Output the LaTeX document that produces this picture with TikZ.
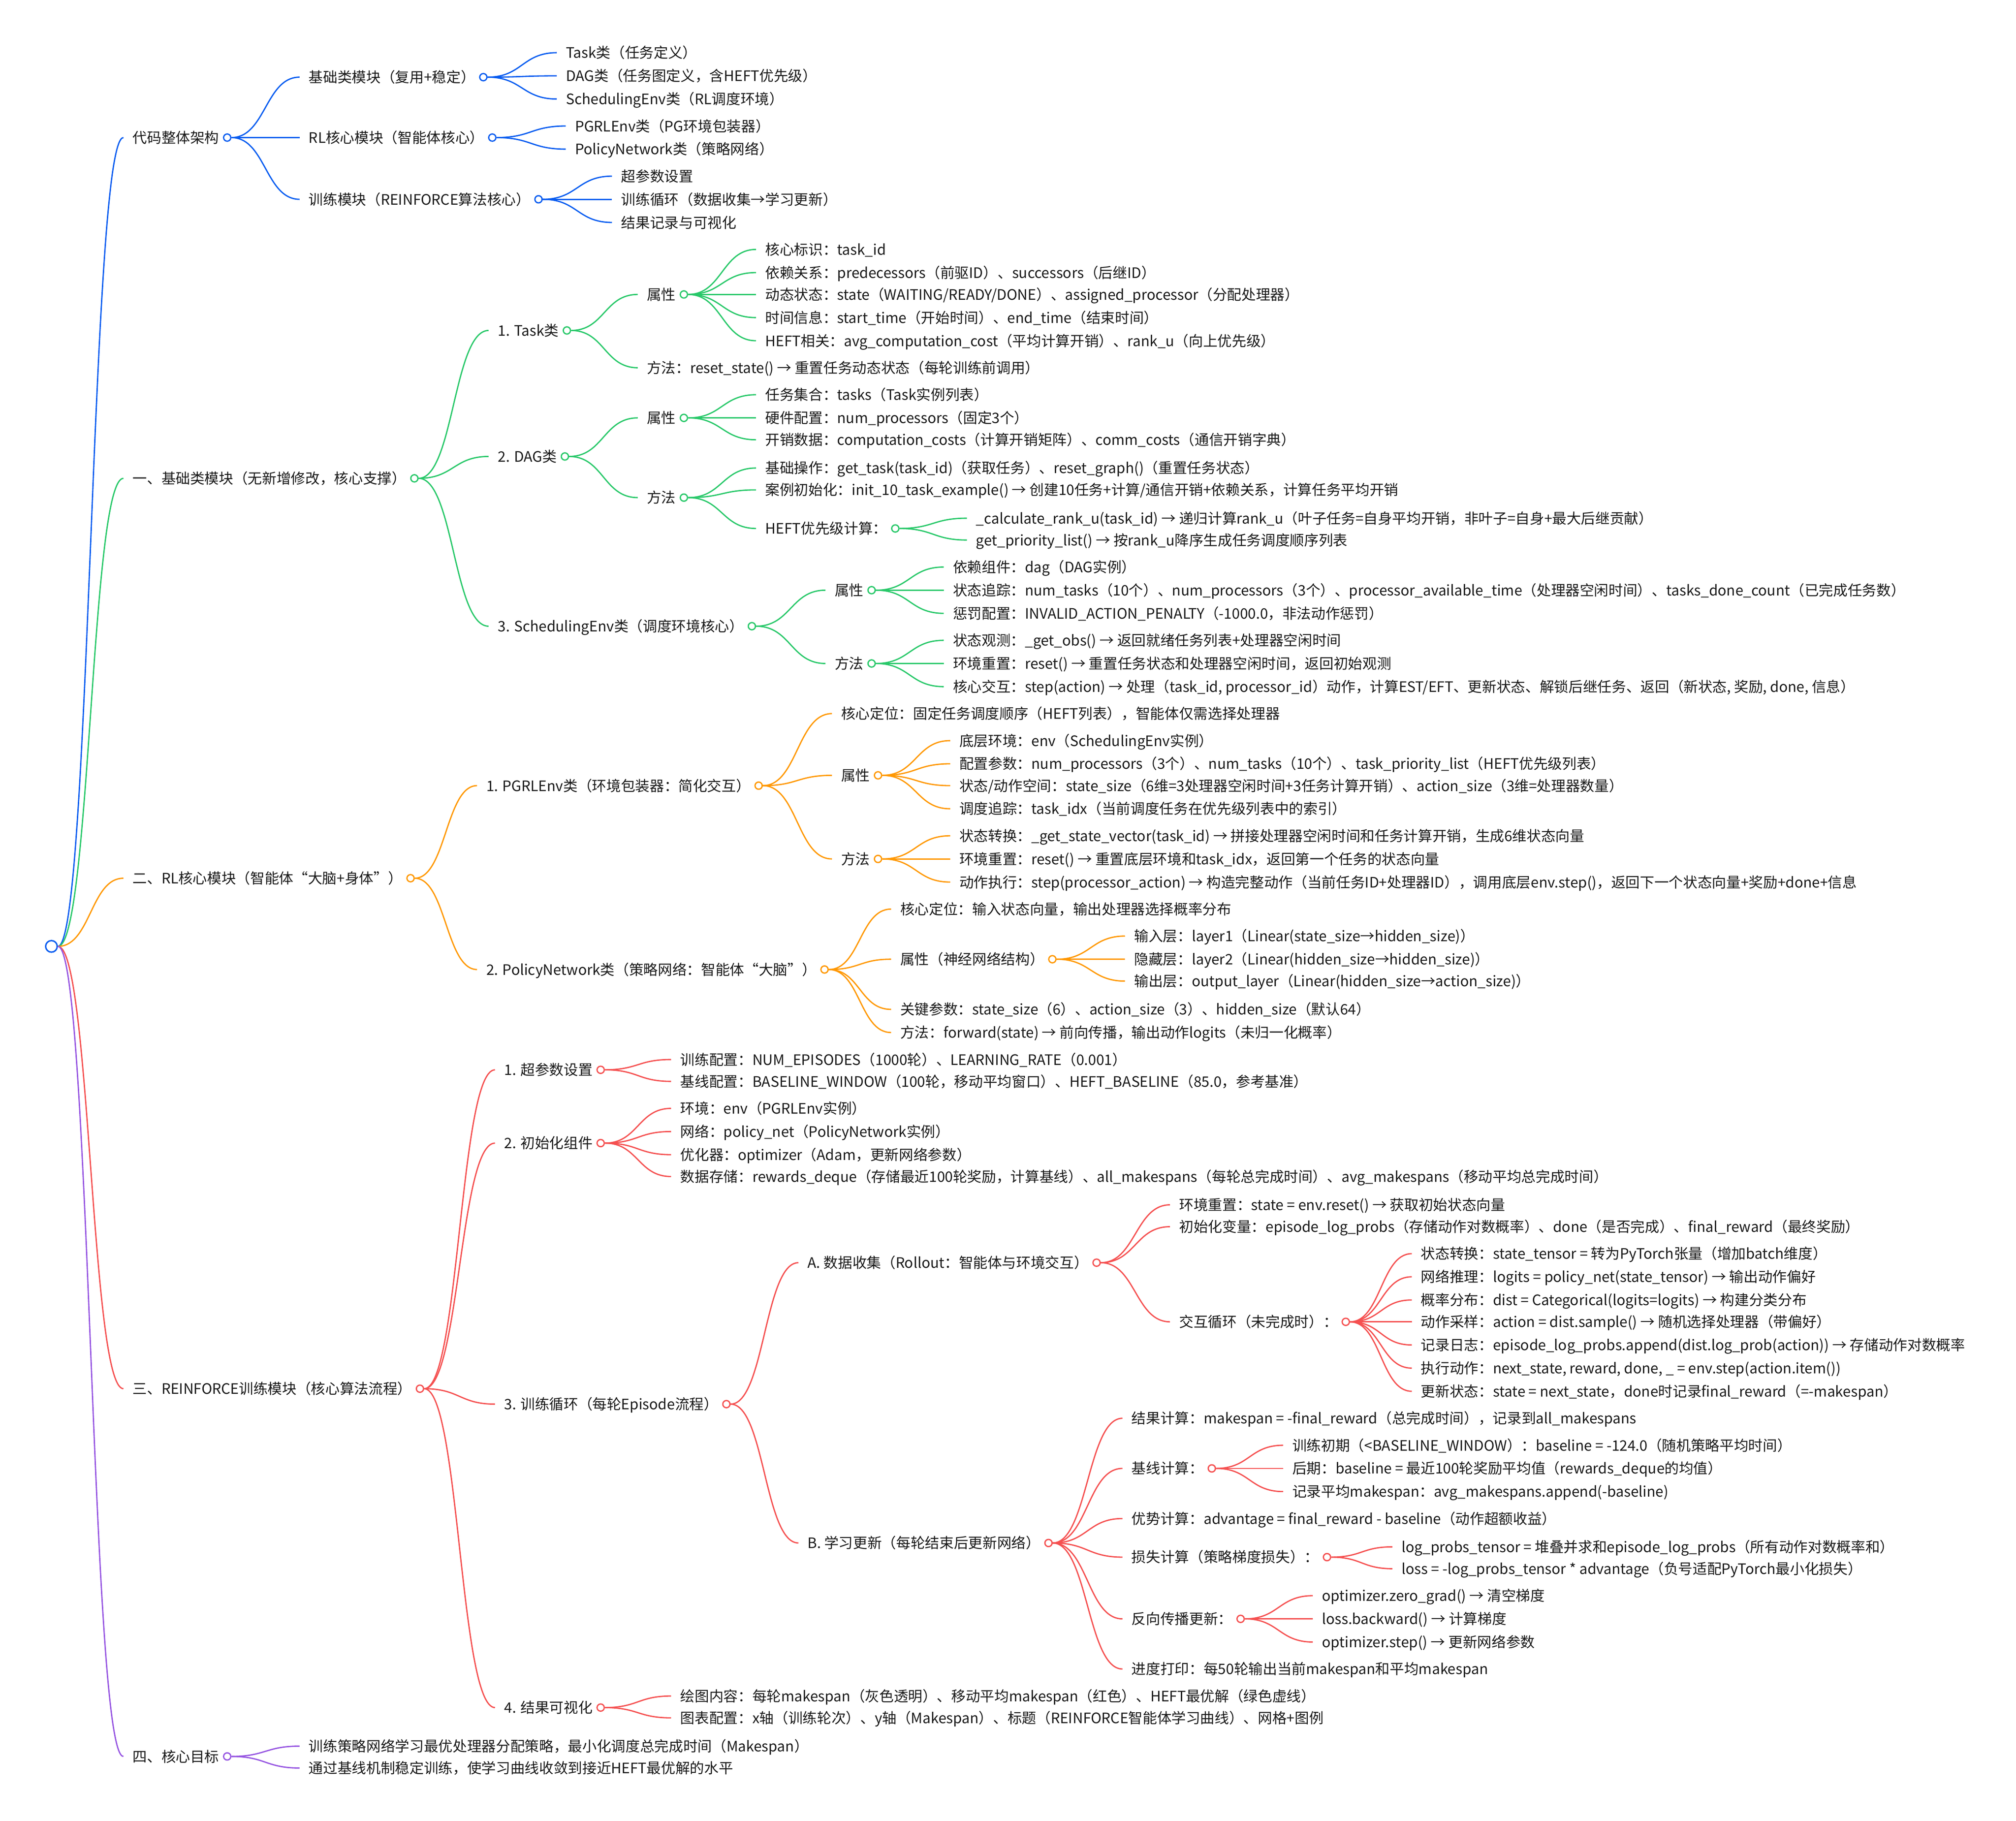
\documentclass[tikz,border=0pt]{standalone}
\usepackage{fontspec}
\setmainfont{Noto Sans CJK SC}[RawFeature=+chws]
\usetikzlibrary{calc,positioning}
\definecolor{cblue}{RGB}{8,92,240}
\definecolor{cgreen}{RGB}{40,200,105}
\definecolor{corange}{RGB}{255,152,0}
\definecolor{cred}{RGB}{245,80,80}
\definecolor{cpurple}{RGB}{150,85,225}
\definecolor{ctext}{RGB}{25,25,25}
\newcommand\mmfont{\fontsize{11.2pt}{13pt}\selectfont}
\newcommand\mmlink[3]{\draw[lnk,#3] let \p1=(#1.east), \p2=([xshift=-7pt]#2.west) in (\p1) .. controls ({0.5*\x1+0.5*\x2},\y1) and ({0.5*\x1+0.5*\x2},\y2) .. (\p2);}
\begin{document}
\begin{tikzpicture}[x=1pt,y=-1pt,
  lbl/.style={anchor=west, inner sep=0pt, text height=8.5pt, text depth=0pt, font=\mmfont, text=ctext},
  dotn/.style={circle, draw=#1, fill=white, line width=1pt, minimum size=5.6pt, inner sep=0pt},
  rootdot/.style={circle, draw=cblue, fill=white, line width=1.1pt, minimum size=9pt, inner sep=0pt},
  lnk/.style={line width=1pt}]
\fill[white] (0,0) rectangle (1568,1416);
\useasboundingbox (0,0) rectangle (1568,1416);

\node[rootdot] (r) at (40,736) {};

% ---------- level 1 ----------
\node[lbl] (a) at (103,107) {代码整体架构};
\node[dotn=cblue, right=2.8pt of a] (ad) {};
\node[lbl] (b) at (103,372) {一、基础类模块（无新增修改，核心支撑）};
\node[dotn=cgreen, right=2.8pt of b] (bd) {};
\node[lbl] (c) at (103,683) {二、RL核心模块（智能体“大脑+身体”）};
\node[dotn=corange, right=2.8pt of c] (cd) {};
\node[lbl] (d) at (103,1080) {三、REINFORCE训练模块（核心算法流程）};
\node[dotn=cred, right=2.8pt of d] (dd) {};
\node[lbl] (e) at (103,1366) {四、核心目标};
\node[dotn=cpurple, right=2.8pt of e] (ed) {};

% ---------- blue ----------
\node[lbl] (a1) at (240,60) {基础类模块（复用+稳定）};
\node[dotn=cblue, right=2.8pt of a1] (a1d) {};
\node[lbl] (a2) at (240,107) {RL核心模块（智能体核心）};
\node[dotn=cblue, right=2.8pt of a2] (a2d) {};
\node[lbl] (a3) at (240,155) {训练模块（REINFORCE算法核心）};
\node[dotn=cblue, right=2.8pt of a3] (a3d) {};
\node[lbl] (a11) at (440,41) {Task类（任务定义）};
\node[lbl] (a12) at (440,59) {DAG类（任务图定义，含HEFT优先级）};
\node[lbl] (a13) at (440,77) {SchedulingEnv类（RL调度环境）};
\node[lbl] (a21) at (447,98) {PGRLEnv类（PG环境包装器）};
\node[lbl] (a22) at (447,116) {PolicyNetwork类（策略网络）};
\node[lbl] (a31) at (483,137) {超参数设置};
\node[lbl] (a32) at (483,155) {训练循环（数据收集→学习更新）};
\node[lbl] (a33) at (483,173) {结果记录与可视化};

% ---------- green ----------
\node[lbl] (b1) at (387,257) {1. Task类};
\node[dotn=cgreen, right=2.8pt of b1] (b1d) {};
\node[lbl] (b2) at (387,355) {2. DAG类};
\node[dotn=cgreen, right=2.8pt of b2] (b2d) {};
\node[lbl] (b3) at (387,487) {3. SchedulingEnv类（调度环境核心）};
\node[dotn=cgreen, right=2.8pt of b3] (b3d) {};

\node[lbl] (b11) at (503,229) {属性};
\node[dotn=cgreen, right=2.8pt of b11] (b11d) {};
\node[lbl] (b12) at (503,286) {方法：reset\_state() → 重置任务动态状态（每轮训练前调用）};
\node[lbl] (b111) at (595,194) {核心标识：task\_id};
\node[lbl] (b112) at (595,212) {依赖关系：predecessors（前驱ID）、successors（后继ID）};
\node[lbl] (b113) at (595,229) {动态状态：state（WAITING/READY/DONE）、assigned\_processor（分配处理器）};
\node[lbl] (b114) at (595,247) {时间信息：start\_time（开始时间）、end\_time（结束时间）};
\node[lbl] (b115) at (595,265) {HEFT相关：avg\_computation\_cost（平均计算开销）、rank\_u（向上优先级）};

\node[lbl] (b21) at (503,325) {属性};
\node[dotn=cgreen, right=2.8pt of b21] (b21d) {};
\node[lbl] (b22) at (503,387) {方法};
\node[dotn=cgreen, right=2.8pt of b22] (b22d) {};
\node[lbl] (b211) at (595,307) {任务集合：tasks（Task实例列表）};
\node[lbl] (b212) at (595,325) {硬件配置：num\_processors（固定3个）};
\node[lbl] (b213) at (595,342) {开销数据：computation\_costs（计算开销矩阵）、comm\_costs（通信开销字典）};
\node[lbl] (b221) at (595,364) {基础操作：get\_task(task\_id)（获取任务）、reset\_graph()（重置任务状态）};
\node[lbl] (b222) at (595,381) {案例初始化：init\_10\_task\_example() → 创建10任务+计算/通信开销+依赖关系，计算任务平均开销};
\node[lbl] (b223) at (595,411) {HEFT优先级计算：};
\node[dotn=cgreen, right=2.8pt of b223] (b223d) {};
\node[lbl] (b2231) at (759,403) {\_calculate\_rank\_u(task\_id) → 递归计算rank\_u（叶子任务=自身平均开销，非叶子=自身+最大后继贡献）};
\node[lbl] (b2232) at (759,420) {get\_priority\_list() → 按rank\_u降序生成任务调度顺序列表};

\node[lbl] (b31) at (649,459) {属性};
\node[dotn=cgreen, right=2.8pt of b31] (b31d) {};
\node[lbl] (b32) at (649,516) {方法};
\node[dotn=cgreen, right=2.8pt of b32] (b32d) {};
\node[lbl] (b311) at (741,441) {依赖组件：dag（DAG实例）};
\node[lbl] (b312) at (741,459) {状态追踪：num\_tasks（10个）、num\_processors（3个）、processor\_available\_time（处理器空闲时间）、tasks\_done\_count（已完成任务数）};
\node[lbl] (b313) at (741,477) {惩罚配置：INVALID\_ACTION\_PENALTY（-1000.0，非法动作惩罚）};
\node[lbl] (b321) at (741,498) {状态观测：\_get\_obs() → 返回就绪任务列表+处理器空闲时间};
\node[lbl] (b322) at (741,516) {环境重置：reset() → 重置任务状态和处理器空闲时间，返回初始观测};
\node[lbl] (b323) at (741,534) {核心交互：step(action) → 处理（task\_id, processor\_id）动作，计算EST/EFT、更新状态、解锁后继任务、返回（新状态, 奖励, done, 信息）};

% ---------- orange ----------
\node[lbl] (c1) at (378,611) {1. PGRLEnv类（环境包装器：简化交互）};
\node[dotn=corange, right=2.8pt of c1] (c1d) {};
\node[lbl] (c2) at (378,754) {2. PolicyNetwork类（策略网络：智能体“大脑”）};
\node[dotn=corange, right=2.8pt of c2] (c2d) {};

\node[lbl] (c11) at (654,555) {核心定位：固定任务调度顺序（HEFT列表），智能体仅需选择处理器};
\node[lbl] (c12) at (654,603) {属性};
\node[dotn=corange, right=2.8pt of c12] (c12d) {};
\node[lbl] (c13) at (654,668) {方法};
\node[dotn=corange, right=2.8pt of c13] (c13d) {};
\node[lbl] (c121) at (746,576) {底层环境：env（SchedulingEnv实例）};
\node[lbl] (c122) at (746,594) {配置参数：num\_processors（3个）、num\_tasks（10个）、task\_priority\_list（HEFT优先级列表）};
\node[lbl] (c123) at (746,611) {状态/动作空间：state\_size（6维=3处理器空闲时间+3任务计算开销）、action\_size（3维=处理器数量）};
\node[lbl] (c124) at (746,629) {调度追踪：task\_idx（当前调度任务在优先级列表中的索引）};
\node[lbl] (c131) at (746,650) {状态转换：\_get\_state\_vector(task\_id) → 拼接处理器空闲时间和任务计算开销，生成6维状态向量};
\node[lbl] (c132) at (746,668) {环境重置：reset() → 重置底层环境和task\_idx，返回第一个任务的状态向量};
\node[lbl] (c133) at (746,686) {动作执行：step(processor\_action) → 构造完整动作（当前任务ID+处理器ID），调用底层env.step()，返回下一个状态向量+奖励+done+信息};

\node[lbl] (c21) at (700,707) {核心定位：输入状态向量，输出处理器选择概率分布};
\node[lbl] (c22) at (700,746) {属性（神经网络结构）};
\node[dotn=corange, right=2.8pt of c22] (c22d) {};
\node[lbl] (c23) at (700,785) {关键参数：state\_size（6）、action\_size（3）、hidden\_size（默认64）};
\node[lbl] (c24) at (700,803) {方法：forward(state) → 前向传播，输出动作logits（未归一化概率）};
\node[lbl] (c221) at (882,728) {输入层：layer1（Linear(state\_size→hidden\_size)）};
\node[lbl] (c222) at (882,746) {隐藏层：layer2（Linear(hidden\_size→hidden\_size)）};
\node[lbl] (c223) at (882,763) {输出层：output\_layer（Linear(hidden\_size→action\_size)）};

% ---------- red ----------
\node[lbl] (d1) at (392,832) {1. 超参数设置};
\node[dotn=cred, right=2.8pt of d1] (d1d) {};
\node[lbl] (d2) at (392,889) {2. 初始化组件};
\node[dotn=cred, right=2.8pt of d2] (d2d) {};
\node[lbl] (d3) at (392,1092) {3. 训练循环（每轮Episode流程）};
\node[dotn=cred, right=2.8pt of d3] (d3d) {};
\node[lbl] (d4) at (392,1328) {4. 结果可视化};
\node[dotn=cred, right=2.8pt of d4] (d4d) {};

\node[lbl] (d11) at (529,824) {训练配置：NUM\_EPISODES（1000轮）、LEARNING\_RATE（0.001）};
\node[lbl] (d12) at (529,841) {基线配置：BASELINE\_WINDOW（100轮，移动平均窗口）、HEFT\_BASELINE（85.0，参考基准）};
\node[lbl] (d21) at (529,862) {环境：env（PGRLEnv实例）};
\node[lbl] (d22) at (529,880) {网络：policy\_net（PolicyNetwork实例）};
\node[lbl] (d23) at (529,898) {优化器：optimizer（Adam，更新网络参数）};
\node[lbl] (d24) at (529,915) {数据存储：rewards\_deque（存储最近100轮奖励，计算基线）、all\_makespans（每轮总完成时间）、avg\_makespans（移动平均总完成时间）};

\node[lbl] (d31) at (628,982) {A. 数据收集（Rollout：智能体与环境交互）};
\node[dotn=cred, right=2.8pt of d31] (d31d) {};
\node[lbl] (d32) at (628,1200) {B. 学习更新（每轮结束后更新网络）};
\node[dotn=cred, right=2.8pt of d32] (d32d) {};

\node[lbl] (d311) at (917,937) {环境重置：state = env.reset() → 获取初始状态向量};
\node[lbl] (d312) at (917,954) {初始化变量：episode\_log\_probs（存储动作对数概率）、done（是否完成）、final\_reward（最终奖励）};
\node[lbl] (d313) at (917,1028) {交互循环（未完成时）：};
\node[dotn=cred, right=2.8pt of d313] (d313d) {};
\node[lbl] (d3131) at (1105,975) {状态转换：state\_tensor = 转为PyTorch张量（增加batch维度）};
\node[lbl] (d3132) at (1105,993) {网络推理：logits = policy\_net(state\_tensor) → 输出动作偏好};
\node[lbl] (d3133) at (1105,1011) {概率分布：dist = Categorical(logits=logits) → 构建分类分布};
\node[lbl] (d3134) at (1105,1028) {动作采样：action = dist.sample() → 随机选择处理器（带偏好）};
\node[lbl] (d3135) at (1105,1046) {记录日志：episode\_log\_probs.append(dist.log\_prob(action)) → 存储动作对数概率};
\node[lbl] (d3136) at (1105,1064) {执行动作：next\_state, reward, done, \_ = env.step(action.item())};
\node[lbl] (d3137) at (1105,1082) {更新状态：state = next\_state，done时记录final\_reward（=-makespan）};

\node[lbl] (d321) at (880,1103) {结果计算：makespan = -final\_reward（总完成时间），记录到all\_makespans};
\node[lbl] (d322) at (880,1142) {基线计算：};
\node[dotn=cred, right=2.8pt of d322] (d322d) {};
\node[lbl] (d323) at (880,1181) {优势计算：advantage = final\_reward - baseline（动作超额收益）};
\node[lbl] (d324) at (880,1211) {损失计算（策略梯度损失）：};
\node[dotn=cred, right=2.8pt of d324] (d324d) {};
\node[lbl] (d325) at (880,1259) {反向传播更新：};
\node[dotn=cred, right=2.8pt of d325] (d325d) {};
\node[lbl] (d326) at (880,1298) {进度打印：每50轮输出当前makespan和平均makespan};
\node[lbl] (d3221) at (1005,1124) {训练初期（<BASELINE\_WINDOW）：baseline = -124.0（随机策略平均时间）};
\node[lbl] (d3222) at (1005,1142) {后期：baseline = 最近100轮奖励平均值（rewards\_deque的均值）};
\node[lbl] (d3223) at (1005,1160) {记录平均makespan：avg\_makespans.append(-baseline)};
\node[lbl] (d3241) at (1090,1203) {log\_probs\_tensor = 堆叠并求和episode\_log\_probs（所有动作对数概率和）};
\node[lbl] (d3242) at (1090,1220) {loss = -log\_probs\_tensor * advantage（负号适配PyTorch最小化损失）};
\node[lbl] (d3251) at (1028,1241) {optimizer.zero\_grad() → 清空梯度};
\node[lbl] (d3252) at (1028,1259) {loss.backward() → 计算梯度};
\node[lbl] (d3253) at (1028,1277) {optimizer.step() → 更新网络参数};

\node[lbl] (d41) at (529,1319) {绘图内容：每轮makespan（灰色透明）、移动平均makespan（红色）、HEFT最优解（绿色虚线）};
\node[lbl] (d42) at (529,1336) {图表配置：x轴（训练轮次）、y轴（Makespan）、标题（REINFORCE智能体学习曲线）、网格+图例};

% ---------- purple ----------
\node[lbl] (e1) at (240,1358) {训练策略网络学习最优处理器分配策略，最小化调度总完成时间（Makespan）};
\node[lbl] (e2) at (240,1375) {通过基线机制稳定训练，使学习曲线收敛到接近HEFT最优解的水平};

% ---------- links ----------
\mmlink{r}{a}{cblue}
\mmlink{r}{b}{cgreen}
\mmlink{r}{c}{corange}
\mmlink{r}{d}{cred}
\mmlink{r}{e}{cpurple}

\foreach \q in {a1,a2,a3} {\mmlink{ad}{\q}{cblue}}
\foreach \q in {a11,a12,a13} {\mmlink{a1d}{\q}{cblue}}
\foreach \q in {a21,a22} {\mmlink{a2d}{\q}{cblue}}
\foreach \q in {a31,a32,a33} {\mmlink{a3d}{\q}{cblue}}

\foreach \q in {b1,b2,b3} {\mmlink{bd}{\q}{cgreen}}
\foreach \q in {b11,b12} {\mmlink{b1d}{\q}{cgreen}}
\foreach \q in {b111,b112,b113,b114,b115} {\mmlink{b11d}{\q}{cgreen}}
\foreach \q in {b21,b22} {\mmlink{b2d}{\q}{cgreen}}
\foreach \q in {b211,b212,b213} {\mmlink{b21d}{\q}{cgreen}}
\foreach \q in {b221,b222,b223} {\mmlink{b22d}{\q}{cgreen}}
\foreach \q in {b2231,b2232} {\mmlink{b223d}{\q}{cgreen}}
\foreach \q in {b31,b32} {\mmlink{b3d}{\q}{cgreen}}
\foreach \q in {b311,b312,b313} {\mmlink{b31d}{\q}{cgreen}}
\foreach \q in {b321,b322,b323} {\mmlink{b32d}{\q}{cgreen}}

\foreach \q in {c1,c2} {\mmlink{cd}{\q}{corange}}
\foreach \q in {c11,c12,c13} {\mmlink{c1d}{\q}{corange}}
\foreach \q in {c121,c122,c123,c124} {\mmlink{c12d}{\q}{corange}}
\foreach \q in {c131,c132,c133} {\mmlink{c13d}{\q}{corange}}
\foreach \q in {c21,c22,c23,c24} {\mmlink{c2d}{\q}{corange}}
\foreach \q in {c221,c222,c223} {\mmlink{c22d}{\q}{corange}}

\foreach \q in {d1,d2,d3,d4} {\mmlink{dd}{\q}{cred}}
\foreach \q in {d11,d12} {\mmlink{d1d}{\q}{cred}}
\foreach \q in {d21,d22,d23,d24} {\mmlink{d2d}{\q}{cred}}
\foreach \q in {d31,d32} {\mmlink{d3d}{\q}{cred}}
\foreach \q in {d311,d312,d313} {\mmlink{d31d}{\q}{cred}}
\foreach \q in {d3131,d3132,d3133,d3134,d3135,d3136,d3137} {\mmlink{d313d}{\q}{cred}}
\foreach \q in {d321,d322,d323,d324,d325,d326} {\mmlink{d32d}{\q}{cred}}
\foreach \q in {d3221,d3222,d3223} {\mmlink{d322d}{\q}{cred}}
\foreach \q in {d3241,d3242} {\mmlink{d324d}{\q}{cred}}
\foreach \q in {d3251,d3252,d3253} {\mmlink{d325d}{\q}{cred}}
\foreach \q in {d41,d42} {\mmlink{d4d}{\q}{cred}}

\foreach \q in {e1,e2} {\mmlink{ed}{\q}{cpurple}}
\end{tikzpicture}
\end{document}
